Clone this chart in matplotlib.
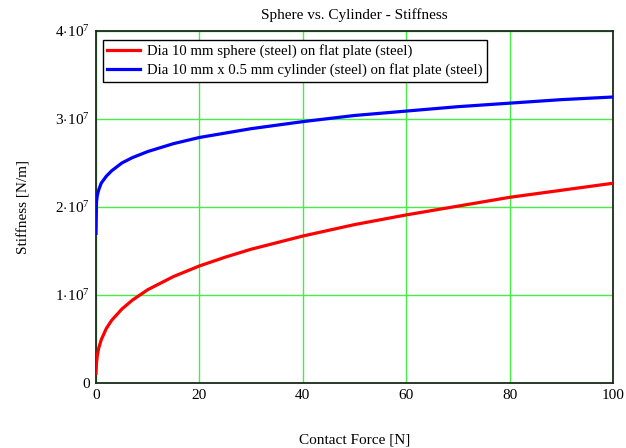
import matplotlib
matplotlib.use("Agg")
import matplotlib.pyplot as plt
from matplotlib.ticker import FixedLocator, FuncFormatter

plt.rcParams['font.family'] = ['Liberation Serif', 'DejaVu Serif']
plt.rcParams['mathtext.fontset'] = 'custom'
plt.rcParams['mathtext.rm'] = 'Liberation Serif'
plt.rcParams['mathtext.it'] = 'Liberation Serif:italic'

# Contact force [N]
force = [0, 0.1, 0.25, 0.5, 1, 2, 3, 5, 7, 10, 15, 20, 25, 30, 40, 50, 60, 70, 80, 90, 100]
# Stiffness [1e6 N/m]
sphere = [1.1, 2.3, 3.1, 3.9, 4.9, 6.2, 7.1, 8.4, 9.4, 10.6, 12.1, 13.3, 14.3, 15.2,
          16.7, 18.0, 19.1, 20.1, 21.1, 21.9, 22.7]
cylinder = [17.0, 20.6, 21.3, 21.9, 22.7, 23.5, 24.1, 25.0, 25.6, 26.3, 27.2, 27.9, 28.4,
            28.9, 29.7, 30.4, 30.9, 31.4, 31.8, 32.2, 32.5]

labels = ["Dia 10 mm sphere (steel) on flat plate (steel)",
          "Dia 10 mm x 0.5 mm cylinder (steel) on flat plate (steel)"]
title = "Sphere vs. Cylinder - Stiffness"
xlabel = "Contact Force [N]"
ylabel = "Stiffness [N/m]"
xticks = [0, 20, 40, 60, 80, 100]
yticks = [0, 1e7, 2e7, 3e7, 4e7]

fig = plt.figure(figsize=(6.26, 4.48), dpi=100)
ax = fig.add_axes([96/626, 1-383/448, (613-96)/626, (383-31)/448])

ax.plot(force, [v*1e6 for v in sphere], color='#ff0000', lw=2.3, label=labels[0], zorder=3)
ax.plot(force, [v*1e6 for v in cylinder], color='#0000ff', lw=2.3, label=labels[1], zorder=3)

ax.set_xlim(0, 100)
ax.set_ylim(0, 4e7)
ax.xaxis.set_major_locator(FixedLocator(xticks))
ax.yaxis.set_major_locator(FixedLocator(yticks))

def yfmt(v, pos):
    if v == 0:
        return "0"
    m = int(round(v/1e7))
    return r"$%d\!\cdot\!10^{7}$" % m

ax.yaxis.set_major_formatter(FuncFormatter(yfmt))
ax.tick_params(length=0, labelsize=11, pad=4)
ax.grid(True, color='#44ee44', lw=1.0)
ax.set_axisbelow(True)
for s in ax.spines.values():
    s.set_color('#1a2a1a')
    s.set_linewidth(1.3)

ax.set_title(title, fontsize=11, pad=9)
ax.set_xlabel(xlabel, fontsize=11, labelpad=23)
ax.set_ylabel(ylabel, fontsize=11, labelpad=18)

leg = ax.legend(loc='upper left', bbox_to_anchor=(0.013, 0.975), fontsize=10.6,
                fancybox=False, framealpha=1, edgecolor='black', borderaxespad=0,
                handlelength=2.2, handletextpad=0.5, labelspacing=0.35,
                borderpad=0.3)
leg.get_frame().set_linewidth(1.0)

fig.savefig("out.png", dpi=100)
